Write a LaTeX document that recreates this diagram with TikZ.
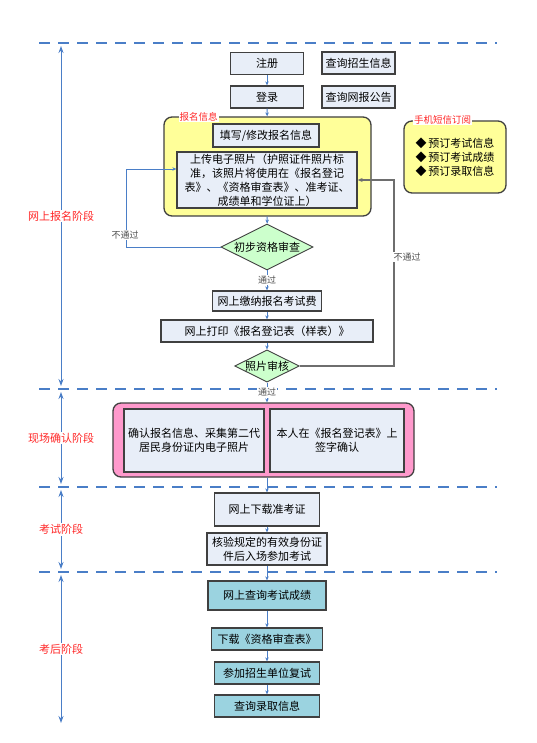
\documentclass[tikz,border=0pt]{standalone}
\usepackage{fontspec}
\setmainfont{Noto Sans CJK SC}
\usetikzlibrary{shapes.geometric,arrows.meta}

\definecolor{boxfill}{RGB}{232,238,248}
\definecolor{scorefill}{RGB}{155,211,224}
\definecolor{checkfill}{RGB}{204,255,204}
\definecolor{infofill}{RGB}{255,255,153}
\definecolor{sitefill}{RGB}{255,153,204}
\definecolor{boxedge}{RGB}{64,64,64}
\definecolor{flowblue}{RGB}{74,126,199}
\definecolor{phasered}{RGB}{255,40,40}
\definecolor{notegray}{RGB}{80,80,80}
\definecolor{backgray}{RGB}{110,110,110}

\begin{document}
\begin{tikzpicture}[x=1pt, y=-1pt, font=\fontsize{11}{14}\selectfont,
  stepbox/.style={draw=boxedge, line width=1.3pt, fill=boxfill, inner sep=1pt, align=center},
  scorebox/.style={stepbox, fill=scorefill},
  checknode/.style={diamond, aspect=2, draw=boxedge, line width=0.9pt, fill=checkfill, inner sep=0pt},
  groupbox/.style={draw=boxedge, line width=1.3pt, rounded corners=8pt},
  flow/.style={->, >={Stealth[length=4pt, width=3.5pt]}, draw=flowblue, line width=0.9pt},
  backline/.style={->, >={Stealth[length=5pt, width=4pt]}, draw=backgray, line width=1.3pt},
  stage/.style={<->, >={Stealth[length=7pt, width=5pt]}, draw=flowblue, line width=1pt},
  phaseline/.style={draw=flowblue, line width=1.6pt, dash pattern=on 11pt off 8pt},
  phase/.style={text=phasered, fill=white, inner sep=1pt},
  tag/.style={text=phasered, font=\fontsize{9.5}{11}\selectfont, fill=white, inner sep=1pt},
  note/.style={text=notegray, font=\fontsize{9}{11}\selectfont, fill=white, inner sep=1pt}]

\useasboundingbox (0,0) rectangle (537,743);

% Phase borders
\draw[phaseline] (39,43) -- (497,43);
\draw[phaseline] (39,389) -- (497,389);
\draw[phaseline] (39,487) -- (497,487);
\draw[phaseline] (39,572) -- (497,572);

\coordinate (p0) at (61,43);
\coordinate (p1) at (61,389);
\coordinate (p2) at (61,487);
\coordinate (p3) at (61,572);
\coordinate (p4) at (61,726);

% Phases
\draw[stage, shorten <=3pt, shorten >=3pt] (p0) -- (p1) node[midway, phase] {网上报名阶段};
\draw[stage, shorten <=3pt, shorten >=3pt] (p1) -- (p2) node[midway, phase] {现场确认阶段};
\draw[stage, shorten <=3pt, shorten >=3pt] (p2) -- (p3) node[midway, phase] {考试阶段};
\draw[stage, shorten <=3pt, shorten >=3pt] (p3) -- (p4) node[pos=0.5, phase] {考后阶段};

% Online registration
\node[stepbox, minimum width=73, minimum height=22] (reg) at (267,63.5) {注册};
\node[stepbox, minimum width=73, minimum height=22] (login) at (267,97) {登录};
\node[stepbox, minimum width=73, minimum height=22] (qinfo) at (358.5,63) {查询招生信息};
\node[stepbox, minimum width=73, minimum height=22] (qnotice) at (358.5,97) {查询网报公告};

\node[groupbox, fill=infofill, minimum width=207, minimum height=99] (info) at (267.5,166.5) {};
\node[tag] at (198.5,117) {报名信息};
\node[stepbox, minimum width=106, minimum height=23] (fillin) at (266,135.5) {填写/修改报名信息};
\node[stepbox, minimum width=180, minimum height=56] (upload) at (267,180)
  {上传电子照片（护照证件照片标\\准，该照片将使用在《报名登记\\表》、《资格审查表》、准考证、\\成绩单和学位证上）};

\node[groupbox, fill=infofill, minimum width=102, minimum height=72, align=left] (sms) at (455,157)
  {◆\,预订考试信息\\◆\,预订考试成绩\\◆\,预订录取信息};
\node[tag] at (442.5,120) {手机短信订阅};

\node[checknode, minimum width=92, minimum height=46] (check1) at (267,247) {初步资格审查};
\node[stepbox, minimum width=109, minimum height=20] (pay) at (267,301) {网上缴纳报名考试费};
\node[stepbox, minimum width=212, minimum height=22] (print) at (267,331) {网上打印《报名登记表（样表）》};
\node[checknode, minimum width=64, minimum height=32] (check2) at (267,366) {照片审核};

% On-site confirmation
\node[groupbox, fill=sitefill, minimum width=301, minimum height=74] (site) at (263.5,440) {};
\node[stepbox, minimum width=140, minimum height=63] (confirm1) at (194,440.5)
  {确认报名信息、采集第二代\\居民身份证内电子照片};
\node[stepbox, minimum width=134, minimum height=63] (confirm2) at (337,440.5)
  {本人在《报名登记表》上\\签字确认};

% Exam
\node[stepbox, minimum width=105, minimum height=33] (ticket) at (267,509.5) {网上下载准考证};
\node[stepbox, minimum width=120, minimum height=32] (verify) at (267,549) {核验规定的有效身份证\\件后入场参加考试};

% After the exam
\node[scorebox, minimum width=118, minimum height=29] (score) at (267,595.5) {网上查询考试成绩};
\node[scorebox, minimum width=111, minimum height=22] (review) at (267,639) {下载《资格审查表》};
\node[scorebox, minimum width=105, minimum height=22] (retest) at (267,673) {参加招生单位复试};
\node[scorebox, minimum width=105, minimum height=22] (admit) at (267,706) {查询录取信息};

% Flow
\draw[flow] (reg) -- (login);
\draw[flow] (login) -- (info);
\draw[flow] (info) -- (check1);
\draw[flow] (check1) -- (pay) node[midway, note] {通过};
\draw[flow] (pay) -- (print);
\draw[flow] (print) -- (check2);
\draw[flow] (check2) -- (check2 |- site.north) node[midway, note] {通过};
\draw[flow] (site.south -| ticket) -- (ticket);
\draw[flow] (ticket) -- (verify);
\draw[flow] (verify) -- (score);
\draw[flow] (score) -- (review);
\draw[flow] (review) -- (retest);
\draw[flow] (retest) -- (admit);

% Failed checks
\coordinate (backL) at (126,169);
\coordinate (backR) at (394,180);
\draw[flow] (check1.west) -| (backL) -- (backL -| upload.west);
\node[note] at (125,235) {不通过};
\draw[backline] (check2.east) -| (backR) -- (backR -| upload.east);
\node[note] at (407,257) {不通过};

\end{tikzpicture}
\end{document}
